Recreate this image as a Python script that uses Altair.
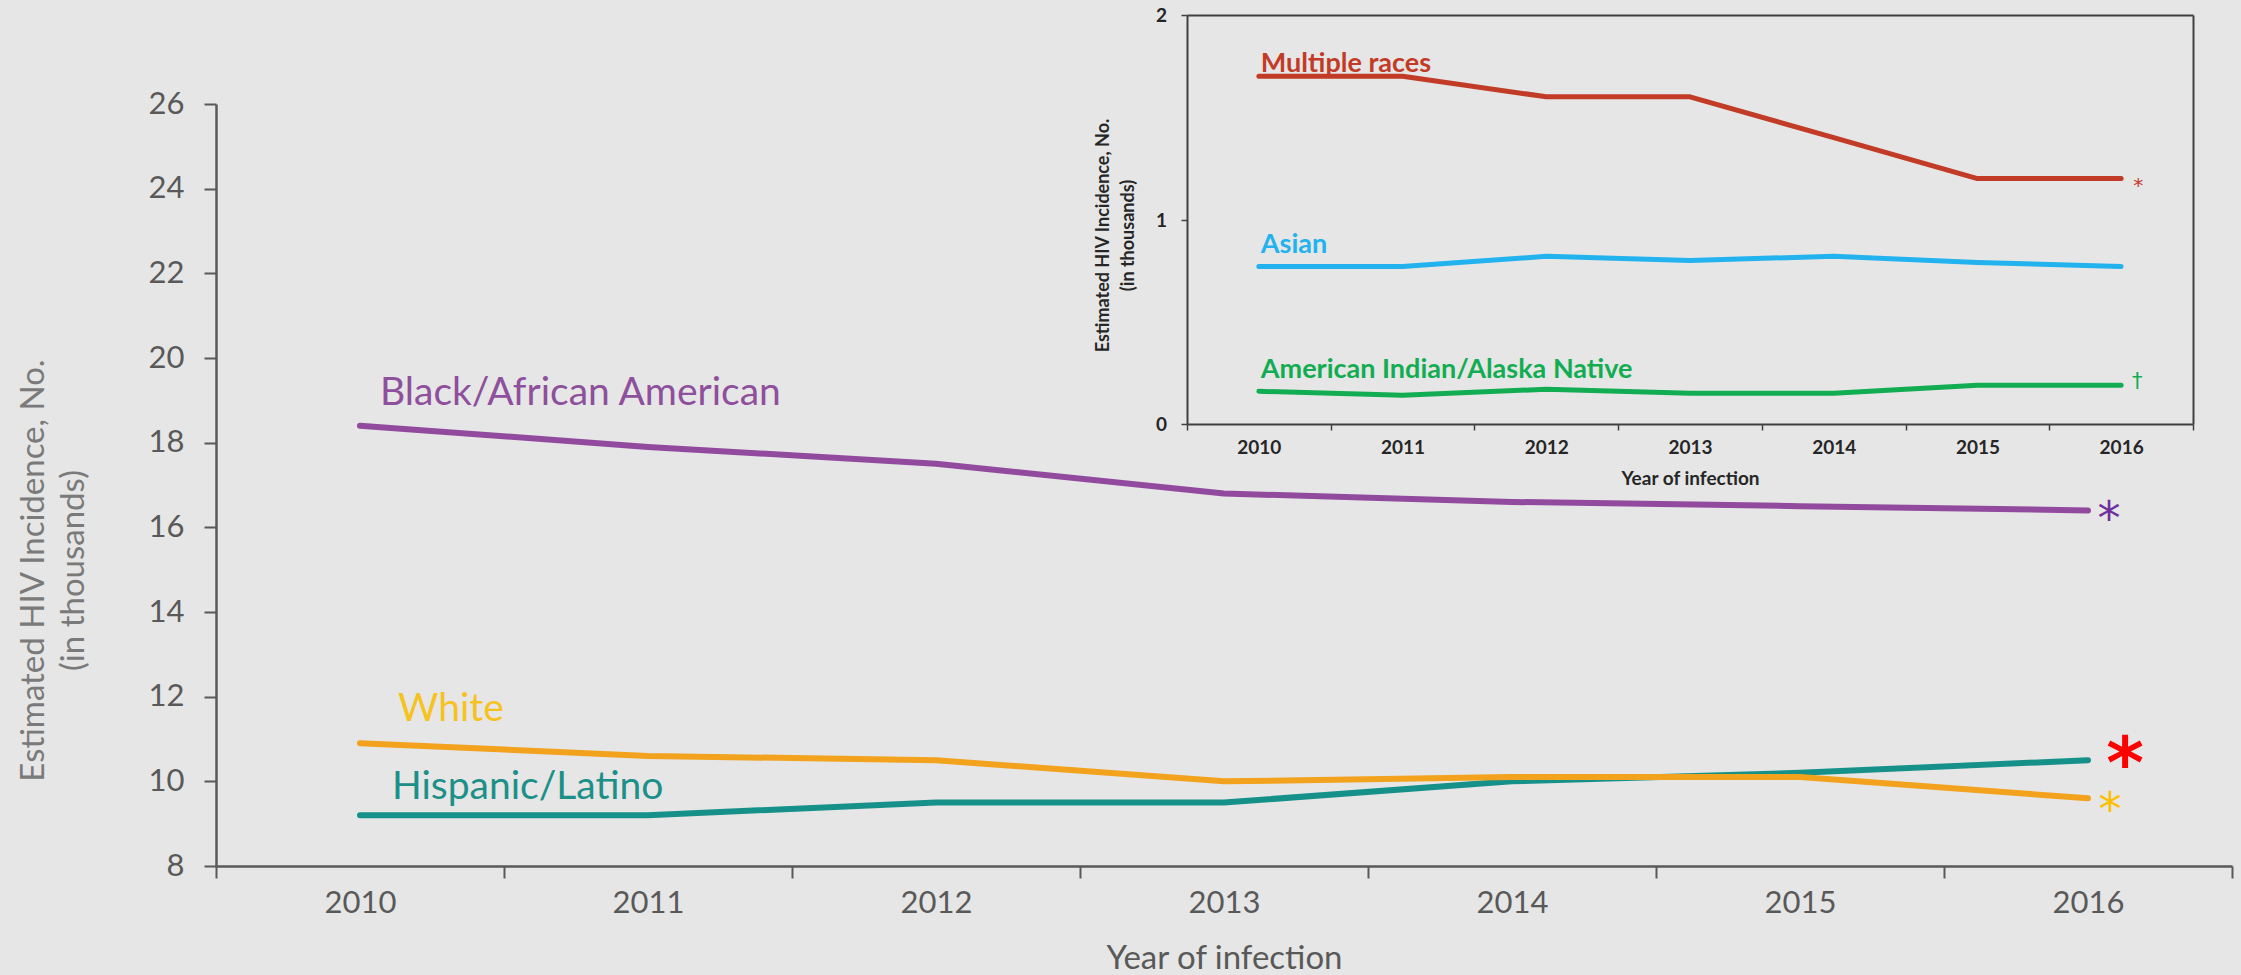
import altair as alt
import pandas as pd

# ---- data -------------------------------------------------------------
years = ["2010", "2011", "2012", "2013", "2014", "2015", "2016"]

# main panel (thousands)
black = [18.4, 17.9, 17.5, 16.8, 16.6, 16.5, 16.4]
white = [10.9, 10.6, 10.5, 10.0, 10.1, 10.1, 9.6]
hispanic = [9.2, 9.2, 9.5, 9.5, 10.0, 10.2, 10.5]

# inset panel (thousands)
multiple = [1.7, 1.7, 1.6, 1.6, 1.4, 1.2, 1.2]
asian = [0.77, 0.77, 0.82, 0.80, 0.82, 0.79, 0.77]
aian = [0.16, 0.14, 0.17, 0.15, 0.15, 0.19, 0.19]

main_groups = ["Hispanic/Latino", "White", "Black/African American"]
main_series = [hispanic, white, black]
main_colors = ["#16918a", "#f2a21c", "#924a9f"]
main_text_colors = ["#1a9088", "#f6c21e", "#8e4f9c"]

inset_groups = ["Multiple races", "Asian", "American Indian/Alaska Native"]
inset_series = [multiple, asian, aian]
inset_colors = ["#c23b27", "#22b2ee", "#12ad52"]

main_ticks = [8, 10, 12, 14, 16, 18, 20, 22, 24, 26]
inset_ticks = [0, 1, 2]
inset_tick_labels = ["0", "1", "2"]

# ---- layout -----------------------------------------------------------
W, H = 2016, 762
BG = "#e6e6e6"
GRAY = "#595959"
FONT = "Lato"
INSET_X_RANGE = [971, 1977]
INSET_Y_RANGE = [320, -89]


def long_table(groups, series):
    rows = []
    for g, vals in zip(groups, series):
        for y, v in zip(years, vals):
            rows.append({"group": g, "year": y, "value": v})
    return pd.DataFrame(rows)


df_main = long_table(main_groups, main_series)
df_inset = long_table(inset_groups, inset_series)

color = alt.Color(
    "group:N",
    scale=alt.Scale(domain=main_groups + inset_groups, range=main_colors + inset_colors),
    legend=None,
)

# ---- main panel encodings ---------------------------------------------
main_x = alt.X(
    "year:O",
    title="Year of infection",
    bandPosition=0.5,
    scale=alt.Scale(type="band", domain=years, paddingInner=0, paddingOuter=0),
    axis=alt.Axis(
        orient="bottom", tickBand="extent", labelAngle=0,
        labelFont=FONT, labelFontSize=31, labelColor=GRAY, labelPadding=10,
        tickSize=12, tickWidth=2, tickColor=GRAY,
        domainColor=GRAY, domainWidth=2.5,
        titleFont=FONT, titleFontSize=33, titleFontWeight="normal", titleColor=GRAY,
        titleY=102, titleBaseline="alphabetic",
    ),
)
main_y = alt.Y(
    "value:Q",
    title=["Estimated HIV Incidence, No.", "(in thousands)"],
    scale=alt.Scale(domain=[8, 26], nice=False, zero=False),
    axis=alt.Axis(
        orient="left", values=main_ticks, labelOverlap=False,
        labelFont=FONT, labelFontSize=31, labelColor=GRAY, labelPadding=20,
        tickSize=12, tickWidth=2, tickColor=GRAY,
        domainColor=GRAY, domainWidth=2.5,
        titleFont=FONT, titleFontSize=33, titleFontWeight="normal", titleColor="#7a7a7a",
        titleAngle=270, titleBaseline="top", titleAlign="center",
        titleX=-199, titleY=466, titleLineHeight=40,
    ),
)

main_lines = alt.Chart(df_main).mark_line(
    strokeWidth=6, strokeCap="round", strokeJoin="round"
).encode(x=main_x, y=main_y, color=color, detail="group:N")

main_layers = [main_lines]

# series names placed just above each line's first point
label_offsets = {
    "Black/African American": (20, -21),
    "White": (38, -22),
    "Hispanic/Latino": (32, -16),
}
for g, vals, c in zip(main_groups, main_series, main_text_colors):
    dx, dy = label_offsets[g]
    lab = pd.DataFrame({"year": [years[0]], "value": [vals[0]], "label": [g]})
    main_layers.append(
        alt.Chart(lab).mark_text(
            align="left", baseline="alphabetic", dx=dx, dy=dy,
            font=FONT, fontSize=39, color=c,
        ).encode(x=main_x, y=main_y, text="label:N")
    )

# significance markers at each line's last point
main_marks = [
    (black, "*", "#7030a0", 46, "normal", 21, 24),
    (hispanic, "*", "#ff0000", 72, "bold", 37, 28),
    (white, "*", "#ffc000", 46, "normal", 22, 27),
]
for vals, sym, c, size, weight, dx, dy in main_marks:
    m = pd.DataFrame({"year": [years[-1]], "value": [vals[-1]], "sym": [sym]})
    main_layers.append(
        alt.Chart(m).mark_text(
            align="center", baseline="alphabetic", dx=dx, dy=dy,
            font="DejaVu Sans", fontSize=size, fontWeight=weight, color=c,
        ).encode(x=main_x, y=main_y, text="sym:N")
    )

main = alt.layer(*main_layers)

# ---- inset panel ------------------------------------------------------
INSET_INK = "#262626"
inset_x = alt.X(
    "year:O",
    title="Year of infection",
    bandPosition=0.5,
    scale=alt.Scale(type="band", domain=years, range=INSET_X_RANGE, paddingInner=0, paddingOuter=0),
    axis=alt.Axis(
        orient="bottom", offset=-(H - INSET_Y_RANGE[0]), tickBand="extent", labelAngle=0,
        labelFont=FONT, labelFontSize=19, labelFontWeight="bold", labelColor=INSET_INK,
        labelPadding=8, tickSize=6, tickWidth=1.5, tickColor="#404040",
        domainColor="#404040", domainWidth=2,
        titleFont=FONT, titleFontSize=19, titleFontWeight="bold", titleColor=INSET_INK,
        titleY=60, titleBaseline="alphabetic",
    ),
)
inset_y = alt.Y(
    "value:Q",
    title=["Estimated HIV Incidence, No.", "(in thousands)"],
    scale=alt.Scale(domain=[0, 2], range=INSET_Y_RANGE, nice=False, zero=True),
    axis=alt.Axis(
        orient="left", offset=-INSET_X_RANGE[0], values=inset_ticks, labels=False,
        tickSize=6, tickWidth=1.5, tickColor="#404040",
        domainColor="#404040", domainWidth=2,
        titleFont=FONT, titleFontSize=18, titleFontWeight="bold", titleColor=INSET_INK,
        titleAngle=270, titleBaseline="top", titleAlign="center",
        titleX=-93, titleY=131, titleLineHeight=25,
    ),
)

inset = alt.Chart(df_inset).mark_line(
    strokeWidth=5, strokeCap="round", strokeJoin="round"
).encode(x=inset_x, y=inset_y, color=color, detail="group:N")

# frame (top and right edges) plus the inset's text annotations
frame_scale_x = alt.Scale(type="band", domain=years, range=INSET_X_RANGE, paddingInner=0, paddingOuter=0)
frame_axis_x = alt.Axis(orient="top", offset=-INSET_Y_RANGE[1], labels=False, ticks=False,
                        title=None, domainColor="#404040", domainWidth=2)
frame_x = alt.X("year:O", bandPosition=0.5, scale=frame_scale_x, axis=frame_axis_x)
frame_x_edge = alt.X("year:O", bandPosition=0, scale=frame_scale_x, axis=frame_axis_x)
frame_y = alt.Y(
    "value:Q",
    scale=alt.Scale(domain=[0, 2], range=INSET_Y_RANGE, nice=False, zero=True),
    axis=alt.Axis(orient="right", offset=INSET_X_RANGE[1] - W, labels=False, ticks=False,
                  title=None, domainColor="#404040", domainWidth=2),
)

frame_layers = []
inset_label_dy = {"Multiple races": -4, "Asian": -14, "American Indian/Alaska Native": -13}
for g, vals, c in zip(inset_groups, inset_series, inset_colors):
    lab = pd.DataFrame({"year": [years[0]], "value": [vals[0]], "label": [g]})
    frame_layers.append(
        alt.Chart(lab).mark_text(
            align="left", baseline="alphabetic", dx=2, dy=inset_label_dy[g],
            font=FONT, fontSize=27, fontWeight="bold", color=c,
        ).encode(x=frame_x, y=frame_y, text="label:N")
    )

# inset y tick labels, set just left of the inset's value axis
tick_df = pd.DataFrame({"year": [years[0]] * len(inset_ticks), "value": inset_ticks,
                        "label": inset_tick_labels})
frame_layers.append(
    alt.Chart(tick_df).mark_text(
        align="right", baseline="middle", dx=-20, dy=1,
        font=FONT, fontSize=19, fontWeight="bold", color=INSET_INK,
    ).encode(x=frame_x_edge, y=frame_y, text="label:N")
)

inset_marks = [
    (multiple, "*", "#c0392b", 20, 17, 13),
    (aian, "\u2020", "#12ad52", 21, 16, 3),
]
for vals, sym, c, size, dx, dy in inset_marks:
    m = pd.DataFrame({"year": [years[-1]], "value": [vals[-1]], "sym": [sym]})
    frame_layers.append(
        alt.Chart(m).mark_text(
            align="center", baseline="alphabetic", dx=dx, dy=dy,
            font="DejaVu Sans", fontSize=size, color=c,
        ).encode(x=frame_x, y=frame_y, text="sym:N")
    )

frame = alt.layer(*frame_layers)

chart = (
    alt.layer(main, inset, frame)
    .resolve_scale(x="independent", y="independent")
    .properties(
        width=W,
        height=H,
        background=BG,
        padding={"left": 216, "top": 104, "right": 9, "bottom": 109},
        autosize=alt.AutoSizeParams(type="none"),
    )
    .configure_view(stroke=None)
    .configure_axis(grid=False)
)

chart.save("out.html", embed_options={"renderer": "svg", "actions": False})
